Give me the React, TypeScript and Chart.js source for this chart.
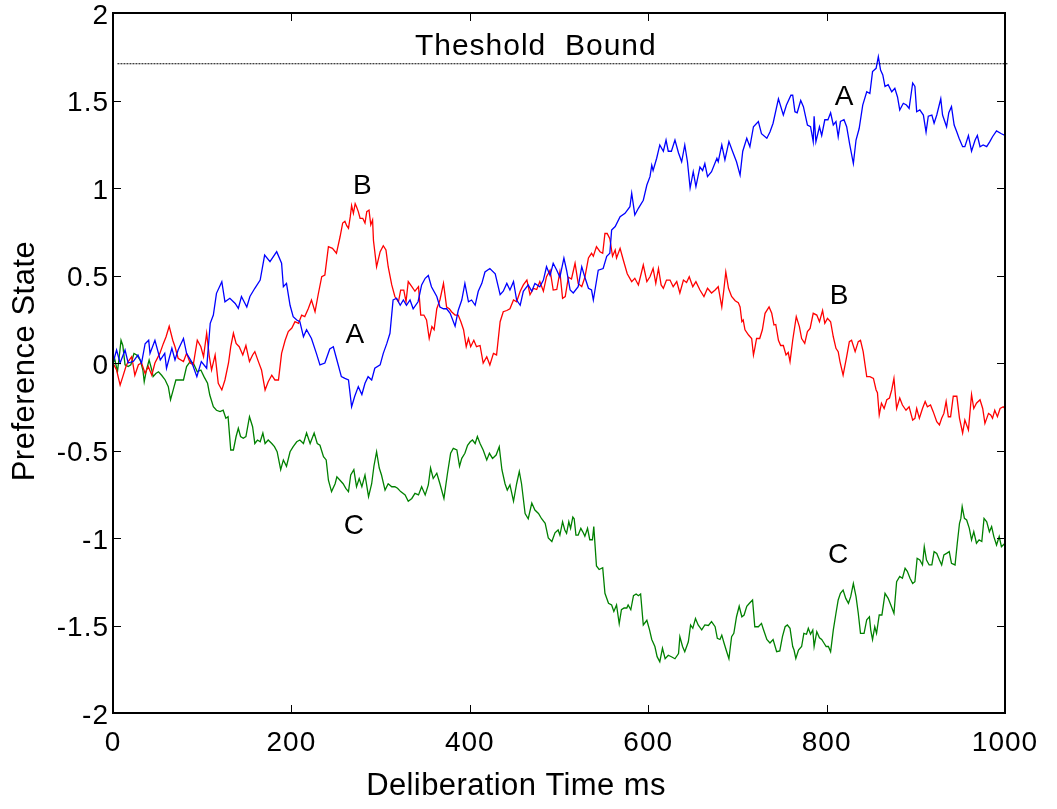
import React, { useEffect, useRef } from "react";
import { Chart, registerables } from "chart.js";

Chart.register(...registerables);

// Series A (blue)
const aTime = [0,4,8,13.5,17,23,28,32,36,40,41.5,47,53,58,60,66,69.5,73,79,82.5,88,94,99,105,109,112.5,116,122,125.5,131,137,140.5,144,150,153.5,159,165,170,176,183.5,189,191,194.5,198.5,202,206,209.5,213.5,217,222.5,228,232,237.5,243,247,251,256,260,264,267.5,271,275,279,282.5,286,290,293.5,299.5,303,307,310.5,314,318,322,325.5,329,333,336.5,342,346,350,353.5,357,363,366.5,370.5,374,378,383.5,387,391,394.5,398.5,402,406,409.5,413.5,417,422.5,428.5,434,437.5,441.5,445,449,452.5,456.5,460,465.5,469.5,473,478.5,482.5,486,490,493.5,497.5,501,505.5,508.5,512.5,516,521.5,525.5,529,533,536.5,538.5,544,549.5,553.5,557,559,563,568.5,574,579.5,581.5,585,589,594.5,598.5,602,604,605.5,609.5,613,617,620,622.5,626,630,634,637.5,641,644,647,650.5,653.5,658,661,663.5,666.5,671,677,678.5,682.5,686,690.5,694.5,699,703,706,710.5,714,718,723.5,727,733,736.5,740,746,751.5,755,760,762,764.5,767,771,774,778.5,782,785,786,788,792,794.5,798,801.5,804.5,807.5,810.5,813,815.5,819.5,822.5,826,830,833,836.5,840.5,845,848.5,851.5,855.5,858,860.5,863,865.5,869,873,876.5,879.5,882,886,889.5,892.5,896.5,899,901,904.5,908.5,911.5,914,918,920.5,923.5,928,930,934.5,937,940,943,946,948.5,952.5,955,959,962.5,966.5,969,972,975.5,979.5,983,986,990.5,996,1000];
const aPref = [0,0.074,0,0.074,0,0.01,0.046,0,0.11,0.13,0.055,0.13,0.017,0.055,-0.03,0.084,0.017,0.074,0.14,0.055,0.008,-0.078,0.008,-0.03,0.227,0.274,0.398,0.465,0.35,0.37,0.34,0.312,0.38,0.32,0.38,0.427,0.474,0.617,0.579,0.636,0.57,0.436,0.455,0.33,0.265,0.246,0.236,0.15,0.19,0.14,0.055,-0.011,0,0.08,0.093,0.017,-0.078,-0.088,-0.097,-0.25,-0.19,-0.135,-0.18,-0.116,-0.078,-0.097,-0.03,-0.011,0.055,0.112,0.17,0.36,0.37,0.33,0.36,0.33,0.36,0.31,0.35,0.446,0.484,0.5,0.436,0.38,0.32,0.31,0.31,0.284,0.21,0.3,0.36,0.455,0.35,0.36,0.33,0.41,0.455,0.52,0.54,0.51,0.39,0.41,0.455,0.417,0.465,0.36,0.33,0.41,0.446,0.41,0.455,0.436,0.474,0.55,0.5,0.57,0.53,0.49,0.6,0.53,0.417,0.4,0.436,0.55,0.49,0.427,0.417,0.36,0.53,0.54,0.61,0.627,0.76,0.78,0.836,0.855,0.893,0.97,0.846,0.884,0.93,1.017,1.065,1.13,1.1,1.17,1.246,1.21,1.274,1.21,1.21,1.274,1.2,1.15,1.246,1.15,1.0,1.093,1.008,1.12,1.1,1.14,1.065,1.093,1.17,1.15,1.246,1.16,1.265,1.21,1.15,1.074,1.21,1.284,1.236,1.35,1.38,1.31,1.284,1.32,1.37,1.51,1.417,1.474,1.53,1.53,1.436,1.43,1.5,1.465,1.36,1.35,1.265,1.41,1.265,1.35,1.3,1.39,1.39,1.43,1.36,1.38,1.293,1.38,1.39,1.35,1.246,1.14,1.274,1.34,1.474,1.55,1.54,1.665,1.684,1.75,1.674,1.646,1.58,1.59,1.55,1.57,1.52,1.446,1.484,1.474,1.455,1.6,1.58,1.436,1.446,1.417,1.32,1.41,1.417,1.37,1.417,1.51,1.417,1.35,1.43,1.465,1.36,1.32,1.284,1.236,1.236,1.3,1.21,1.274,1.3,1.236,1.246,1.236,1.265,1.293,1.326,1.31,1.3];

// Series B (red)
const bTime = [0,4,8,11,14.5,17,21,24.5,28.5,32,36,39.5,43.5,47,52.5,56.5,59.5,63,67,69.5,73,79,82.5,86.5,90,94.5,98.5,101.5,105,108,110.5,114.5,118,122,125.5,129.5,132,135,138,141.5,145.5,149,153,156.5,159,163,166.5,170.5,174,178,181.5,185.5,189,193,196.5,200.5,204,208,211.5,215,219,222.5,226.5,230,234,237.5,241.5,246,250.5,254.5,257.5,260,262,264,266,267.5,269.5,271.5,273,275,277,280,282.5,284.5,287,289,291,292,295.5,299.5,303,306,308.5,312.5,316,320,322.5,326,328.5,331,335,338.5,342.5,345,348.5,351.5,354.5,357.5,360,363,366.5,370.5,374,377,379.5,383.5,387,390,393,396,398.5,401,404.5,407.5,411.5,415,419,422.5,426.5,430,434,437.5,441.5,445,449,452.5,456.5,460,464,467.5,471.5,475,478.5,482.5,486,490,493.5,497.5,501,504,507,510.5,514,518,521.5,525.5,529,533,536.5,538.5,542,546,549,551.5,554,557,560,563,564.5,568.5,572,576.5,581.5,585,589,594.5,598.5,602,605.5,608.5,611.5,614.5,617,620.5,624.5,628,632,635.5,639.5,643,646,650,653.5,658,662.5,666.5,671,675,678.5,682.5,685,687,690,693.5,697.5,701,703,705,706.5,708.5,712.5,716,718,719.5,721.5,725,728,731,735.5,738.5,741,743,746,748.5,751.5,754.5,757,759,762,766,769.5,772,775.5,778.5,781.5,785,789,792,795.5,798,801,804.5,807.5,810.5,813,815,818.5,822.5,825.5,828,832,835.5,838,841,845,848.5,852.5,855.5,857,859,861.5,864.5,867.5,870.5,873,875.5,878.5,882,885,889,892.5,896.5,899,901,904,907.5,910.5,913,916.5,919.5,923.5,926.5,929,931.5,934,936.5,939,942,946,949,952.5,955,959,962.5,965,968,972,975,977.5,981.5,984,986,988.5,991.5,994.5,998,1000];
const bPref = [0,-0.04,-0.126,-0.078,-0.02,0.008,0.036,-0.07,-0.01,0,-0.06,-0.02,-0.07,0,0.055,0.112,0.15,0.21,0.13,0.093,0.027,0.008,0.055,0,-0.01,0.13,0.093,0.036,0.17,0.036,-0.04,0.046,-0.116,-0.154,-0.097,0,0.093,0.17,0.112,0.093,0.046,0.1,0.008,0.046,0.065,0.008,-0.04,-0.154,-0.107,-0.07,-0.097,-0.097,0.055,0.13,0.18,0.2,0.236,0.227,0.274,0.265,0.312,0.36,0.293,0.39,0.493,0.503,0.665,0.655,0.627,0.72,0.8,0.81,0.785,0.77,0.836,0.9,0.855,0.91,0.893,0.865,0.827,0.827,0.8,0.865,0.874,0.79,0.817,0.7,0.55,0.636,0.67,0.646,0.55,0.446,0.38,0.35,0.417,0.417,0.35,0.465,0.436,0.41,0.436,0.274,0.274,0.246,0.14,0.208,0.19,0.31,0.36,0.455,0.32,0.31,0.293,0.274,0.274,0.236,0.19,0.093,0.14,0.093,0.13,0.093,0.1,0,0.036,-0.011,0.055,0.046,0.236,0.293,0.3,0.31,0.36,0.35,0.41,0.446,0.474,0.39,0.427,0.42,0.465,0.41,0.493,0.53,0.417,0.42,0.52,0.37,0.38,0.49,0.48,0.57,0.455,0.436,0.49,0.6,0.627,0.61,0.665,0.636,0.627,0.74,0.74,0.71,0.61,0.646,0.6,0.655,0.59,0.51,0.465,0.484,0.446,0.56,0.465,0.493,0.54,0.455,0.54,0.446,0.427,0.474,0.474,0.436,0.465,0.4,0.474,0.46,0.493,0.436,0.465,0.417,0.38,0.427,0.4,0.417,0.436,0.32,0.427,0.52,0.427,0.38,0.356,0.345,0.32,0.236,0.246,0.19,0.16,0.14,0.046,0.084,0.14,0.14,0.19,0.284,0.32,0.284,0.217,0.22,0.13,0.1,0.1,0.046,0.06,0.008,0.13,0.265,0.208,0.14,0.112,0.18,0.198,0.284,0.274,0.236,0.3,0.227,0.255,0.236,0.15,0.084,0.065,0.008,-0.069,0.036,0.122,0.13,0.065,0.122,0.13,0.065,-0.078,-0.078,-0.088,-0.154,-0.17,-0.297,-0.23,-0.26,-0.21,-0.2,-0.154,-0.088,-0.26,-0.2,-0.24,-0.27,-0.25,-0.326,-0.316,-0.26,-0.316,-0.26,-0.22,-0.25,-0.24,-0.278,-0.335,-0.354,-0.316,-0.288,-0.22,-0.307,-0.307,-0.19,-0.19,-0.316,-0.4,-0.326,-0.383,-0.18,-0.26,-0.23,-0.21,-0.26,-0.345,-0.288,-0.297,-0.316,-0.27,-0.307,-0.26,-0.25,-0.26];

// Series C (green)
const cTime = [0,2,5,7,9,11,13.5,17,20,23.5,26.5,30.5,33.5,35,37.5,40.5,43.5,45,48,51,54.5,58.5,62,64.5,67.5,70.5,75,79,82.5,86.5,90,94.5,98.5,102,106,108.5,112.5,116,120,123.5,126.5,129,132,135,138,140.5,143,146,149,153,156.5,159,162,165,168,170.5,174,178,181,184,188,191,194.5,198.5,202,206,209.5,213.5,217,221,225.5,229,232,236,239,241.5,245,249,251,254.5,258,261,264,266.5,270,273,276,279,282.5,286.5,290,292.5,295.5,298.5,301,305,308.5,312.5,316,319,322.5,327.5,331,335,338.5,342.5,346,350,353.5,356,359,363,366.5,371,375,378.5,381.5,385.5,388.5,391,394.5,397.5,400.5,403,406,408.5,411.5,415,419,422,425.5,429.5,433,436,439.5,442,445,449,452.5,455.5,458,462,465.5,469.5,473,477,480.5,484.5,488,492,495.5,499,501,504,506.5,508.5,511,513,515.5,517,519,521.5,524.5,527.5,529,532,534.5,537.5,539,542,545,549,551.5,555.5,559,561.5,564.5,567.5,570,573,576,577.5,580.5,583.5,586.5,589,591.5,594.5,598.5,601.5,604,607.5,610,613,616,619,622.5,626.5,630,634,635.5,638.5,641,645,647.5,650,653,656,660,663.5,667.5,671,675,677.5,680.5,682.5,685,688,690.5,693.5,696,699,702,705,707.5,710.5,713.5,717,719.5,723.5,727,729,733,736.5,740,744,747.5,750.5,753.5,756,759,762,763.5,765.5,768.5,772,774.5,777.5,779.5,782,784.5,786,789,792,794.5,797,799.5,802,804.5,807.5,810.5,813,815.5,818.5,821.5,824.5,827,830,833,835.5,838,842,845,848,849.5,851.5,854,856,859,862,865.5,869,872,875.5,878.5,882,885,888,890.5,893.5,896.5,899,901.5,904.5,907.5,909.5,912,915,918,920.5,923.5,926.5,929,931.5,934.5,937.5,940,944,946.5,949,950.5,952,954.5,957,960,962.5,965,968,971,974,976.5,979.5,982.5,985,987.5,990.5,993.5,996,1000];
const cPref = [0,0.02,-0.05,0.036,0.13,0.1,-0.01,-0.02,-0.01,0.055,0.046,0.017,-0.04,-0.107,-0.04,0.017,-0.04,-0.078,-0.06,-0.05,-0.07,-0.097,-0.135,-0.21,-0.154,-0.097,-0.097,-0.097,-0.02,0.008,0,-0.05,-0.04,-0.078,-0.116,-0.183,-0.25,-0.27,-0.278,-0.27,-0.316,-0.307,-0.497,-0.497,-0.42,-0.373,-0.42,-0.43,-0.42,-0.307,-0.364,-0.46,-0.44,-0.45,-0.4,-0.46,-0.44,-0.46,-0.478,-0.507,-0.61,-0.554,-0.59,-0.507,-0.478,-0.45,-0.44,-0.46,-0.4,-0.46,-0.4,-0.46,-0.47,-0.535,-0.554,-0.67,-0.735,-0.69,-0.65,-0.67,-0.69,-0.716,-0.735,-0.64,-0.61,-0.707,-0.66,-0.707,-0.64,-0.764,-0.69,-0.59,-0.507,-0.6,-0.64,-0.726,-0.69,-0.707,-0.707,-0.716,-0.735,-0.754,-0.79,-0.774,-0.745,-0.754,-0.707,-0.754,-0.697,-0.6,-0.66,-0.63,-0.69,-0.774,-0.63,-0.516,-0.488,-0.497,-0.59,-0.545,-0.516,-0.47,-0.45,-0.44,-0.46,-0.42,-0.46,-0.497,-0.554,-0.516,-0.545,-0.526,-0.478,-0.61,-0.69,-0.726,-0.697,-0.79,-0.69,-0.62,-0.69,-0.86,-0.89,-0.8,-0.84,-0.86,-0.89,-0.916,-1.0,-1.02,-0.97,-0.954,-0.983,-0.907,-0.954,-0.973,-0.907,-0.945,-0.88,-0.89,-0.983,-0.983,-0.945,-0.973,-0.99,-0.945,-1.01,-1.01,-0.935,-1.16,-1.18,-1.17,-1.316,-1.373,-1.383,-1.42,-1.383,-1.49,-1.41,-1.4,-1.4,-1.383,-1.41,-1.33,-1.32,-1.33,-1.32,-1.497,-1.47,-1.525,-1.58,-1.62,-1.678,-1.707,-1.63,-1.69,-1.67,-1.68,-1.69,-1.66,-1.564,-1.62,-1.65,-1.593,-1.497,-1.516,-1.46,-1.497,-1.525,-1.497,-1.5,-1.478,-1.507,-1.573,-1.58,-1.555,-1.6,-1.65,-1.69,-1.564,-1.545,-1.45,-1.39,-1.45,-1.44,-1.39,-1.373,-1.354,-1.507,-1.507,-1.488,-1.52,-1.58,-1.6,-1.58,-1.65,-1.645,-1.564,-1.507,-1.497,-1.516,-1.62,-1.64,-1.688,-1.64,-1.62,-1.545,-1.55,-1.516,-1.55,-1.526,-1.62,-1.535,-1.57,-1.58,-1.6,-1.62,-1.62,-1.65,-1.526,-1.43,-1.354,-1.316,-1.297,-1.345,-1.373,-1.335,-1.26,-1.335,-1.43,-1.545,-1.545,-1.467,-1.45,-1.526,-1.58,-1.507,-1.545,-1.44,-1.44,-1.316,-1.345,-1.383,-1.43,-1.25,-1.22,-1.23,-1.173,-1.19,-1.23,-1.26,-1.25,-1.116,-1.126,-1.154,-1.05,-1.126,-1.154,-1.154,-1.078,-1.088,-1.126,-1.154,-1.097,-1.088,-1.078,-1.145,-1.154,-1.03,-0.916,-0.888,-0.821,-0.888,-0.897,-0.945,-1.011,-0.964,-1.03,-1.011,-1.02,-0.888,-0.907,-0.964,-0.935,-0.992,-1.04,-0.992,-1.05,-1.03];

// Threshold bound
const thresholdTime = [5, 1003];
const thresholdPref = [1.71, 1.71];

// Tick values
const xTicks = [0, 200, 400, 600, 800, 1000];
const yTicks = [-2, -1.5, -1, -0.5, 0, 0.5, 1, 1.5, 2];

// Text annotations
const noteText = ["Theshold  Bound", "A", "B", "A", "B", "C", "C"];
const noteTime = [474, 271, 279.5, 819.5, 814, 270, 813];
const notePref = [1.81, 0.16, 1.007, 1.52, 0.38, -0.935, -1.097];

const xTitle = "Deliberation Time ms";
const yTitle = "Preference State";

const FONT = "'Liberation Sans', Arial, Helvetica, sans-serif";

const toPoints = (t: number[], v: number[]) => t.map((x, i) => ({ x, y: v[i] }));

const framePlugin = {
  id: "frameTicks",
  beforeDraw(chart: any) {
    (chart.ctx as any).letterSpacing = "1px";
  },
  afterDatasetsDraw(chart: any) {
    const { ctx, chartArea, scales } = chart;
    const { left, right, top, bottom } = chartArea;
    ctx.save();
    ctx.fillStyle = "#000";
    ctx.textAlign = "center";
    ctx.textBaseline = "middle";
    // annotations
    noteText.forEach((t, i) => {
      ctx.font = i === 0 ? `30px ${FONT}` : `28px ${FONT}`;
      (ctx as any).letterSpacing = i === 0 ? "1px" : "0px";
      ctx.fillText(t, scales.x.getPixelForValue(noteTime[i]), scales.y.getPixelForValue(notePref[i]));
    });
    // axis titles
    ctx.font = `31px ${FONT}`;
    (ctx as any).letterSpacing = "0.4px";
    ctx.fillText(xTitle, 516, 786);
    ctx.save();
    ctx.translate(25, 361);
    ctx.rotate(-Math.PI / 2);
    (ctx as any).letterSpacing = "0.5px";
    ctx.fillText(yTitle, 0, 0);
    ctx.restore();
    // ticks
    ctx.strokeStyle = "#000";
    ctx.lineWidth = 1;
    const tl = 8;
    ctx.beginPath();
    xTicks.forEach((v) => {
      const px = Math.round(scales.x.getPixelForValue(v)) + 0.5;
      ctx.moveTo(px, bottom);
      ctx.lineTo(px, bottom - tl);
      ctx.moveTo(px, top);
      ctx.lineTo(px, top + tl);
    });
    yTicks.forEach((v) => {
      const py = Math.round(scales.y.getPixelForValue(v)) + 0.5;
      ctx.moveTo(left, py);
      ctx.lineTo(left + tl, py);
      ctx.moveTo(right, py);
      ctx.lineTo(right - tl, py);
    });
    ctx.stroke();
    // frame
    ctx.lineWidth = 2;
    ctx.strokeRect(left, top, right - left, bottom - top);
    ctx.restore();
  },
};

export default function App() {
  const ref = useRef<HTMLCanvasElement | null>(null);
  useEffect(() => {
    if (!ref.current) return;
    const chart = new Chart(ref.current, {
      type: "line",
      data: {
        datasets: [
          {
            label: "A",
            data: toPoints(aTime, aPref),
            borderColor: "#0000ff",
            borderWidth: 1.3,
            pointRadius: 0,
            tension: 0,
          },
          {
            label: "B",
            data: toPoints(bTime, bPref),
            borderColor: "#ff0000",
            borderWidth: 1.3,
            pointRadius: 0,
            tension: 0,
          },
          {
            label: "C",
            data: toPoints(cTime, cPref),
            borderColor: "#008000",
            borderWidth: 1.3,
            pointRadius: 0,
            tension: 0,
          },
          {
            label: "Threshold",
            data: toPoints(thresholdTime, thresholdPref),
            borderColor: "#000",
            borderWidth: 1,
            borderDash: [2, 1],
            pointRadius: 0,
            clip: false as any,
          },
        ],
      },
      options: {
        animation: false,
        responsive: false,
        devicePixelRatio: 1,
        events: [],
        layout: { padding: { top: 13, right: 52, left: 0, bottom: 0 } },
        plugins: { legend: { display: false }, tooltip: { enabled: false } },
        scales: {
          x: {
            type: "linear",
            min: 0,
            max: 1000,
            afterBuildTicks: (s: any) => {
              s.ticks = xTicks.map((v) => ({ value: v }));
            },
            afterFit: (s: any) => {
              s.height = 96;
              s.paddingLeft = 0;
              s.paddingRight = 0;
            },
            grid: { display: false, drawTicks: false },
            border: { display: false },
            ticks: {
              color: "#000",
              font: { family: FONT, size: 28 },
              padding: 13,
              maxRotation: 0,
              autoSkip: false,
              callback: (v: any) => String(v),
            },
            title: { display: false },
          },
          y: {
            type: "linear",
            min: -2,
            max: 2,
            afterBuildTicks: (s: any) => {
              s.ticks = yTicks.map((v) => ({ value: v }));
            },
            afterFit: (s: any) => {
              s.width = 113;
              s.paddingTop = 0;
              s.paddingBottom = 0;
            },
            grid: { display: false, drawTicks: false },
            border: { display: false },
            ticks: {
              color: "#000",
              font: { family: FONT, size: 28 },
              padding: 4,
              labelOffset: 3,
              autoSkip: false,
              callback: (v: any) => String(v),
            },
            title: { display: false },
          },
        },
      },
      plugins: [framePlugin],
    });
    return () => chart.destroy();
  }, []);
  return (
    <div style={{ position: "fixed", left: 0, top: 0, width: 1057, height: 809, background: "#fff" }}>
      <canvas ref={ref} width={1057} height={809} style={{ width: 1057, height: 809, display: "block" }} />
    </div>
  );
}
